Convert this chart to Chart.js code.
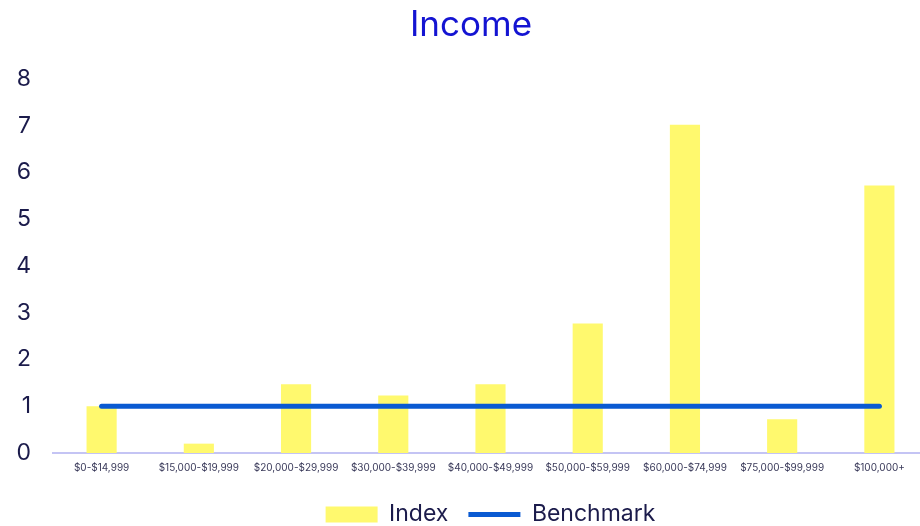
<!DOCTYPE html>
<html>
<head>
<meta charset="utf-8">
<title>Income</title>
<script src="https://cdn.jsdelivr.net/npm/chart.js@4/dist/chart.umd.min.js"></script>
<style>
  html, body { margin: 0; padding: 0; background: #ffffff; overflow: hidden; }
  #incomeChart { display: block; }
</style>
</head>
<body>
<canvas id="incomeChart" width="960" height="526"></canvas>
<script>
// --- Données ---
const incomeBands = [
    '$0-$14,999', '$15,000-$19,999', '$20,000-$29,999', '$30,000-$39,999',
    '$40,000-$49,999', '$50,000-$59,999', '$60,000-$74,999', '$75,000-$99,999', '$100,000+'
];
const indexValues = [1.0, 0.2, 1.47, 1.23, 1.47, 2.77, 7.02, 0.72, 5.72];
const benchmarkValues = [1, 1, 1, 1, 1, 1, 1, 1, 1];
const yTicks = [0, 1, 2, 3, 4, 5, 6, 7, 8];

// --- Couleurs ---
const yellow = '#fff96e';
const blue = '#0a5ad2';
const navy = '#1b1b4b';

const FONT = "Inter, 'DejaVu Sans', sans-serif";

new Chart(document.getElementById('incomeChart'), {
    data: {
        labels: incomeBands,
        datasets: [
            {
                type: 'bar',
                label: 'Index',
                data: indexValues,
                backgroundColor: yellow,
                borderWidth: 0,
                barPercentage: 0.31,
                categoryPercentage: 1,
                pointStyle: 'rect',
                order: 1
            },
            {
                type: 'line',
                label: 'Benchmark',
                data: benchmarkValues,
                borderColor: blue,
                backgroundColor: blue,
                borderWidth: 5,
                borderCapStyle: 'round',
                pointRadius: 0,
                pointStyle: 'line',
                fill: false,
                order: 0
            }
        ]
    },
    options: {
        responsive: false,
        animation: false,
        layout: { padding: { left: 14, right: 32, top: 0, bottom: -10 } },
        plugins: {
            title: {
                display: true,
                text: 'Income',
                color: '#1414d2',
                font: { family: FONT, size: 35, weight: 'normal' },
                padding: { top: 4, bottom: 33 }
            },
            legend: {
                position: 'bottom',
                fullSize: false,
                labels: {
                    color: navy,
                    font: { family: FONT, size: 23 },
                    usePointStyle: true,
                    pointStyleWidth: 52,
                    boxHeight: 16,
                    padding: 20,
                    sort: (a, b) => a.datasetIndex - b.datasetIndex
                }
            },
            tooltip: { enabled: false }
        },
        scales: {
            x: {
                grid: { display: false, drawTicks: false },
                border: { display: true, color: '#c4c4f4', width: 2 },
                ticks: {
                    color: '#3a3a5a',
                    font: { family: FONT, size: 10 },
                    maxRotation: 0,
                    autoSkip: false,
                    padding: 9
                },
                afterFit: (axis) => { axis.height = 30; }
            },
            y: {
                min: 0,
                max: 8,
                afterBuildTicks: (axis) => { axis.ticks = yTicks.map(v => ({ value: v })); },
                grid: { display: false, drawTicks: false },
                border: { display: false },
                ticks: {
                    color: navy,
                    font: { family: FONT, size: 23 },
                    padding: 22
                },
                afterFit: (axis) => { axis.width = 39; }
            }
        }
    }
});
</script>
</body>
</html>
